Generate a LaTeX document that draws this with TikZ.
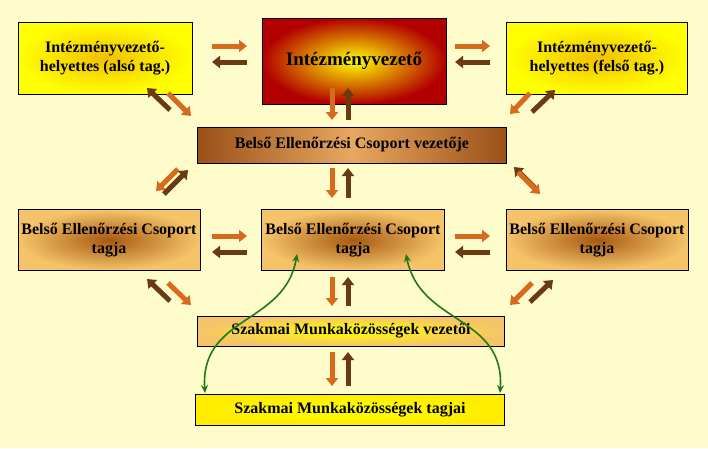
\documentclass[tikz,border=0pt]{standalone}
\usepackage{fontspec}
\setmainfont{Liberation Serif}
\usetikzlibrary{arrows.meta}
\definecolor{bg}{HTML}{FFFCCC}
\definecolor{oar}{HTML}{D86A1E}
\definecolor{bar}{HTML}{6A3A12}
\definecolor{grn}{HTML}{1E7A14}
\definecolor{tan}{HTML}{F5C46A}
\definecolor{dbr}{HTML}{A85A12}
\definecolor{vbr}{HTML}{9A5018}
\definecolor{vlt}{HTML}{E8A860}
\definecolor{tyel}{HTML}{F2C000}
\begin{document}
\begin{tikzpicture}[x=1pt,y=-1pt,
  box/.style={draw=black,line width=0.8pt,font=\bfseries\fontsize{16}{19}\selectfont,align=center,inner sep=0pt},
  oa/.style={line width=5pt,draw=oar,-{Triangle[length=8pt,width=12pt]}},
  ba/.style={line width=5pt,draw=bar,-{Triangle[length=8pt,width=12pt]}},
  gl/.style={draw=grn,line width=1.6pt,{Stealth[length=8pt,width=7pt]}-{Stealth[length=8pt,width=7pt]}}]
\fill[bg] (0,0) rectangle (708,448);
\useasboundingbox (0,0) rectangle (708,448);
\node[box,minimum width=174pt,minimum height=72pt,inner color=tyel,outer color=yellow] (tl) at (105,58) {Intézményvezető-\\helyettes (alsó tag.)};
\node[box,minimum width=184pt,minimum height=86pt,inner color=yellow,outer color=red!70!black,font=\bfseries\fontsize{19}{21}\selectfont] (tc) at (354,61) {Intézményvezető};
\node[box,minimum width=181pt,minimum height=72pt,inner color=tyel,outer color=yellow] (tr) at (597,58) {Intézményvezető-\\helyettes (felső tag.)};
\node[box,minimum width=309pt,minimum height=36pt,left color=vbr,right color=vbr,middle color=vlt] (bv) at (352,145) {Belső Ellenőrzési Csoport vezetője};
\node[box,minimum width=182pt,minimum height=61pt,inner color=dbr,outer color=tan] (ml) at (109,240) {Belső Ellenőrzési Csoport\\tagja};
\node[box,minimum width=183pt,minimum height=61pt,inner color=dbr,outer color=tan] (mc) at (353,240) {Belső Ellenőrzési Csoport\\tagja};
\node[box,minimum width=182pt,minimum height=61pt,inner color=dbr,outer color=tan] (mr) at (597,240) {Belső Ellenőrzési Csoport\\tagja};
\node[box,minimum width=307pt,minimum height=30pt,inner color=yellow,outer color=tan] (sv) at (351,331) {Szakmai Munkaközösségek vezetői};
\node[box,minimum width=309pt,minimum height=31pt,inner color=yellow,outer color=yellow!85!orange] (st) at (350,410) {Szakmai Munkaközösségek tagjai};
% horizontal pairs
\foreach \xa/\xb/\y in {212/247/46,455/490/46,212/247/236,455/490/236}{
  \draw[oa] (\xa,\y) -- (\xb,\y);
  \draw[ba] (\xb,\y+16) -- (\xa,\y+16);}
% vertical pairs
\foreach \ya/\yb in {88/120,168/198,277/306,352/386}{
  \draw[oa] (332,\ya) -- (332,\yb);
  \draw[ba] (348,\yb) -- (348,\ya);}
% diagonals
\draw[ba] (170,110) -- (147,88);  \draw[oa] (168,93) -- (191,116);
\draw[oa] (530,93) -- (510,114);  \draw[ba] (532,112) -- (555,90);
\draw[oa] (178,169) -- (156,191); \draw[ba] (164,194) -- (188,170);
\draw[ba] (536,189) -- (514,167); \draw[oa] (518,172) -- (540,194);
\draw[ba] (170,301) -- (147,279); \draw[oa] (168,283) -- (191,305);
\draw[oa] (532,283) -- (510,305); \draw[ba] (530,302) -- (553,280);
% green curves
\draw[gl] (205,393) .. controls (200,315) and (285,325) .. (297,254);
\draw[gl] (500,393) .. controls (505,315) and (420,325) .. (406,254);
\end{tikzpicture}
\end{document}
